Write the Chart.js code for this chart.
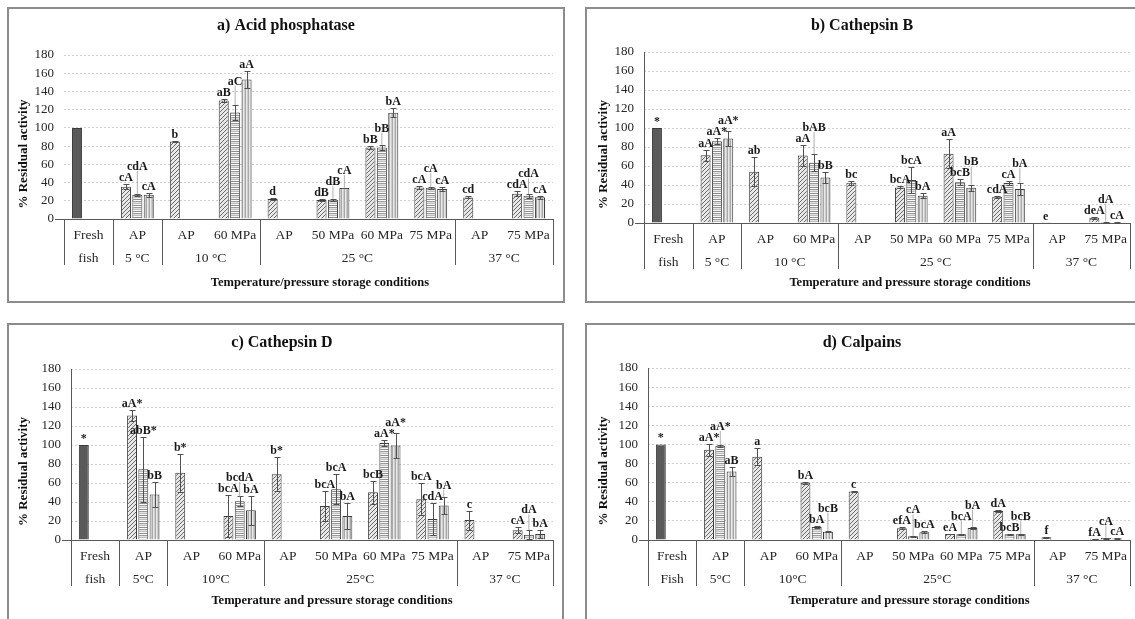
<!DOCTYPE html>
<html><head><meta charset="utf-8">
<script src="https://cdn.jsdelivr.net/npm/chart.js@4.4.0/dist/chart.umd.min.js"></script>
<style>
html,body{margin:0;padding:0;background:#fff;width:1135px;height:619px;overflow:hidden;position:relative;}
.box{position:absolute;border:2px solid #8c8c8c;box-sizing:border-box;}
canvas{position:absolute;}
</style></head><body>
<div class="box" style="left:7px;top:7px;width:558px;height:296px"></div>
<div class="box" style="left:585px;top:7px;width:560px;height:296px"></div>
<div class="box" style="left:7px;top:323px;width:557px;height:310px"></div>
<div class="box" style="left:585px;top:323px;width:560px;height:310px"></div>
<canvas id="ca"></canvas><canvas id="cb"></canvas><canvas id="cc"></canvas><canvas id="cd"></canvas>
<script>
// ---------- DATA ----------
const categories = ["Fresh","AP","AP","60 MPa","AP","50 MPa","60 MPa","75 MPa","AP","75 MPa"];
const groupSpans = [1,1,2,4,2];
const groupLabelsAB = ["fish","5 °C","10 °C","25 °C","37 °C"];
const groupLabelsC = ["fish","5°C","10°C","25°C","37 °C"];
const groupLabelsD = ["Fish","5°C","10°C","25°C","37 °C"];
const yMin = 0, yMax = 180, yStep = 20;

// a) Acid phosphatase
const acidS1 = [100, 35.5, 85, 130, 22, 20.8, 78.5, 34.7, 23.7, 27.7];
const acidS2 = [null, 26.6, null, 117, null, 21.2, 78.5, 34.3, null, 25.5];
const acidS3 = [null, 26.6, null, 153, null, 34, 116.5, 33, null, 24];
const acidE1 = [0, 3, 1, 2, 1, 1, 2, 1.5, 1, 2.5];
const acidE2 = [null, 1, null, 8, null, 1, 3, 1, null, 2];
const acidE3 = [null, 2, null, 9, null, 0.5, 5, 2, null, 1.5];
const acidL1 = ["", "cA", "b", "aB", "d", "dB", "bB", "cA", "cd", "cdA"];
const acidL2 = ["", "cdA", "", "aC", "", "dB", "bB", "cA", "", "cdA"];
const acidL3 = ["", "cA", "", "aA", "", "cA", "bA", "cA", "", "cA"];

// b) Cathepsin B
const catbS1 = [100, 71.2, 54, 71, 42.5, 37.5, 73, 27.7, 0.3, 5.6];
const catbS2 = [null, 86, null, 63.5, null, 45.3, 42.8, 42, null, 1];
const catbS3 = [null, 89, null, 48, null, 28.8, 37.2, 35.8, null, 0.5];
const catbE1 = [0, 6, 15, 11, 2, 1, 15, 1, 0, 1];
const catbE2 = [null, 3, null, 9, null, 14, 3, 2, null, 0.5];
const catbE3 = [null, 8, null, 5.5, null, 3, 3, 6, null, 0.3];
const catbL1 = ["*", "aA", "ab", "aA", "bc", "bcA", "aA", "cdA", "e", "deA"];
const catbL2 = ["", "aA*", "", "bAB", "", "bcA", "bcB", "cA", "", "dA"];
const catbL3 = ["", "aA*", "", "bB", "", "bA", "bB", "bA", "", "cA"];

// c) Cathepsin D
const catdS1 = [100, 131, 70.7, 25.3, 69.3, 35.9, 50.3, 42.9, 21, 10.2];
const catdS2 = [null, 74.5, null, 40.8, null, 53.4, 102, 22, null, 5.6];
const catdS3 = [null, 48, null, 31.3, null, 25.3, 99.5, 36.2, null, 6.3];
const catdE1 = [0, 6, 20, 22, 18, 16, 12, 17, 10, 3];
const catdE2 = [null, 34, null, 5, null, 16, 3, 17, null, 5];
const catdE3 = [null, 13, null, 15, null, 14, 13, 9, null, 4];
const catdL1 = ["*", "aA*", "b*", "bcA", "b*", "bcA", "bcB", "bcA", "c", "cA"];
const catdL2 = ["", "abB*", "", "bcdA", "", "bcA", "aA*", "cdA", "", "dA"];
const catdL3 = ["", "bB", "", "bA", "", "bA", "aA*", "bA", "", "bA"];

// d) Calpains
const calpS1 = [100, 94.4, 87, 59.8, 50.7, 12.2, 6.3, 30.4, 2.8, 1.2];
const calpS2 = [null, 98.6, null, 13.6, null, 3.8, 5.9, 5.9, null, 2];
const calpS3 = [null, 71.7, null, 8.7, null, 8, 12.6, 5.9, null, 1.5];
const calpE1 = [0, 6, 9, 1, 0.5, 1, 0.5, 1, 0.5, 0.3];
const calpE2 = [null, 1, null, 1.5, null, 0.5, 0.5, 0.5, null, 0.5];
const calpE3 = [null, 5, null, 0.5, null, 1, 1, 0.5, null, 0.3];
const calpL1 = ["*", "aA*", "a", "bA", "c", "efA", "eA", "dA", "f", "fA"];
const calpL2 = ["", "aA*", "", "bA", "", "cA", "bcA", "bcB", "", "cA"];
const calpL3 = ["", "aB", "", "bcB", "", "bcA", "bA", "bcB", "", "cA"];

// ---------- STYLE / LAYOUT ----------
const FONT = "'Liberation Serif','Times New Roman',serif";
const Y_AXIS_W = 50, X_AXIS_H = 30;

function makePattern(kind){
  const c=document.createElement('canvas'); const g=c.getContext('2d');
  if(kind==='diag'){
    c.width=4;c.height=4; g.fillStyle='#e8e8e8'; g.fillRect(0,0,4,4);
    g.strokeStyle='#6a6a6a'; g.lineWidth=1; g.beginPath();
    g.moveTo(0,4); g.lineTo(4,0); g.moveTo(-1,1); g.lineTo(1,-1); g.moveTo(3,5); g.lineTo(5,3); g.stroke();
  } else if(kind==='horiz'){
    c.width=4; c.height=6;
    ['#ffffff','#9a9a9a','#e2e2e2','#bdbdbd','#f6f6f6','#8e8e8e'].forEach((col,i)=>{g.fillStyle=col; g.fillRect(0,i,4,1);});
  } else {
    c.width=3; c.height=4;
    ['#a9a9a9','#e8e8e8','#cdcdcd'].forEach((col,i)=>{g.fillStyle=col; g.fillRect(i,0,1,4);});
  }
  return g.createPattern(c,'repeat');
}
const patDiag = makePattern('diag'), patHoriz = makePattern('horiz'), patVert = makePattern('vert');
const FRESH = '#5a5a5a';

const PANEL_CFG = {
  ca: {canvas:{l:8,t:8,w:555,h:293}, area:{l:64,t:55,r:553,b:219},
       title:["a) Acid phosphatase",286,26], xTitle:["Temperature/pressure storage conditions",320,283], yTitleX:24, yLine:false,
       groups:groupLabelsAB, series:[acidS1,acidS2,acidS3], errs:[acidE1,acidE2,acidE3], labels:[acidL1,acidL2,acidL3]},
  cb: {canvas:{l:586,t:8,w:549,h:293}, area:{l:644,t:52,r:1130,b:223},
       title:["b) Cathepsin B",862,26], xTitle:["Temperature and pressure storage conditions",910,283], yTitleX:604, yLine:true,
       groups:groupLabelsAB, series:[catbS1,catbS2,catbS3], errs:[catbE1,catbE2,catbE3], labels:[catbL1,catbL2,catbL3]},
  cc: {canvas:{l:8,t:324,w:554,h:295}, area:{l:71,t:369,r:553,b:540},
       title:["c) Cathepsin D",282,343], xTitle:["Temperature and pressure storage conditions",332,601], yTitleX:24, yLine:true,
       groups:groupLabelsC, series:[catdS1,catdS2,catdS3], errs:[catdE1,catdE2,catdE3], labels:[catdL1,catdL2,catdL3]},
  cd: {canvas:{l:586,t:324,w:549,h:295}, area:{l:648,t:368,r:1130,b:540},
       title:["d) Calpains",862,343], xTitle:["Temperature and pressure storage conditions",909,601], yTitleX:604, yLine:true,
       groups:groupLabelsD, series:[calpS1,calpS2,calpS3], errs:[calpE1,calpE2,calpE3], labels:[calpL1,calpL2,calpL3]}
};

const decor = {
  id:'decor',
  afterDatasetsDraw(chart){
    const P = PANEL_CFG[chart.canvas.id]; if(!P) return;
    const ctx=chart.ctx, y=chart.scales.y;
    ctx.save();
    for(let d=0; d<3; d++){
      const meta=chart.getDatasetMeta(d);
      meta.data.forEach((el,i)=>{
        const v=P.series[d][i], e=P.errs[d][i];
        if(v==null||!e) return;
        const yt=Math.round(y.getPixelForValue(v+e))+0.5, yb=Math.round(y.getPixelForValue(Math.max(0,v-e)))+0.5;
        const x=Math.round(el.x)+0.5;
        ctx.strokeStyle='#505050'; ctx.lineWidth=1; ctx.beginPath();
        ctx.moveTo(x,yt); ctx.lineTo(x,yb);
        ctx.moveTo(x-3,yt); ctx.lineTo(x+3,yt);
        ctx.moveTo(x-3,yb); ctx.lineTo(x+3,yb);
        ctx.stroke();
      });
    }
    ctx.font = "bold 12px "+FONT; ctx.textAlign='center'; ctx.textBaseline='alphabetic'; ctx.fillStyle='#1a1a1a';
    const n = categories.length;
    for(let i=0;i<n;i++){
      const placed=[];
      for(let d=0; d<3; d++){
        const v=P.series[d][i]; const txt=P.labels[d][i];
        if(v==null||!txt) continue;
        const el=chart.getDatasetMeta(d).data[i];
        const e=P.errs[d][i]||0;
        const topPx=y.getPixelForValue(v+e);
        const natural=topPx-3;
        const w=ctx.measureText(txt).width, h=10;
        const x0=el.x-w/2, x1=el.x+w/2;
        let yb=natural, moved=true;
        while(moved){
          moved=false;
          for(const p of placed){
            if(x0 < p.x1-2 && x1 > p.x0+2 && yb > p.yt && yb-h < p.yb){ yb=p.yt-1; moved=true; }
          }
        }
        if(natural-yb>4){
          ctx.save(); ctx.strokeStyle='#9a9a9a'; ctx.lineWidth=0.8; ctx.beginPath();
          ctx.moveTo(el.x,topPx); ctx.lineTo(el.x,yb+1); ctx.stroke(); ctx.restore();
        }
        ctx.fillText(txt, el.x, yb);
        placed.push({x0,x1,yb,yt:yb-h});
      }
    }
    ctx.restore();
  },
  afterDraw(chart){
    const P = PANEL_CFG[chart.canvas.id]; if(!P) return;
    const ctx=chart.ctx, x=chart.scales.x, y=chart.scales.y, A=chart.chartArea;
    const ox=P.canvas.l, oy=P.canvas.t;
    ctx.save();
    ctx.strokeStyle='#595959'; ctx.lineWidth=1;
    const y0=Math.round(y.getPixelForValue(0))+0.5;
    ctx.beginPath(); ctx.moveTo(A.left-9,y0); ctx.lineTo(A.left,y0); ctx.stroke();
    if(P.yLine){
      const xl=Math.round(A.left)+0.5;
      ctx.beginPath(); ctx.moveTo(xl,A.top); ctx.lineTo(xl,A.bottom); ctx.stroke();
    }
    const catW=x.getPixelForValue(1)-x.getPixelForValue(0);
    const bound=i=>x.getPixelForValue(i)-catW/2;
    let idx=0;
    const cuts=[0];
    groupSpans.forEach(s=>{idx+=s; cuts.push(idx);});
    ctx.beginPath();
    cuts.forEach(c=>{const bx=Math.round(bound(c))+0.5; ctx.moveTo(bx,A.bottom); ctx.lineTo(bx,A.bottom+46);});
    ctx.stroke();
    ctx.fillStyle='#262626'; ctx.font="13.5px "+FONT; ctx.textAlign='center'; ctx.textBaseline='middle';
    for(let g=0; g<groupSpans.length; g++){
      const cx=(bound(cuts[g])+bound(cuts[g+1]))/2;
      ctx.fillText(P.groups[g], cx, A.bottom+39);
    }
    ctx.fillStyle='#111';
    ctx.font="bold 16px "+FONT;
    ctx.fillText(P.title[0], P.title[1]-ox, P.title[2]-oy);
    ctx.font="bold 12.5px "+FONT;
    ctx.fillText(P.xTitle[0], P.xTitle[1]-ox, P.xTitle[2]-oy);
    ctx.font="bold 13px "+FONT;
    ctx.translate(P.yTitleX-ox, (A.top+A.bottom)/2+17);
    ctx.rotate(-Math.PI/2);
    ctx.fillText("% Residual activity",0,0);
    ctx.restore();
  }
};

function build(id){
  const P=PANEL_CFG[id];
  const cv=document.getElementById(id);
  cv.width=P.canvas.w; cv.height=P.canvas.h;
  cv.style.left=P.canvas.l+'px'; cv.style.top=P.canvas.t+'px';
  cv.style.width=P.canvas.w+'px'; cv.style.height=P.canvas.h+'px';
  const pad={
    left:P.area.l-P.canvas.l-Y_AXIS_W,
    top:P.area.t-P.canvas.t,
    right:P.canvas.l+P.canvas.w-P.area.r,
    bottom:P.canvas.t+P.canvas.h-P.area.b-X_AXIS_H
  };
  const [s1,s2,s3]=P.series;
  new Chart(cv,{
    type:'bar',
    data:{labels:categories, datasets:[
      {data:s1, backgroundColor:s1.map((v,i)=>i===0?FRESH:patDiag), borderColor:'#3c3c3c', borderWidth:1},
      {data:s2, backgroundColor:patHoriz, borderColor:'#3c3c3c', borderWidth:1},
      {data:s3, backgroundColor:patVert, borderColor:'#3c3c3c', borderWidth:1}
    ]},
    options:{
      responsive:false, animation:false, devicePixelRatio:1,
      layout:{padding:pad},
      plugins:{legend:{display:false}, tooltip:{enabled:false}, title:{display:false}},
      datasets:{bar:{categoryPercentage:0.7, barPercentage:0.88}},
      scales:{
        x:{type:'category', offset:true,
           grid:{display:false, drawTicks:false},
           border:{display:true, color:'#595959', width:1},
           ticks:{font:{family:FONT,size:13.5}, color:'#262626', padding:8, maxRotation:0, minRotation:0, autoSkip:false},
           afterFit(s){s.height=X_AXIS_H; s.paddingLeft=0; s.paddingRight=0;}},
        y:{min:yMin, max:yMax,
           ticks:{stepSize:yStep, autoSkip:false, font:{family:FONT,size:13}, color:'#262626', padding:10},
           grid:{color:'#cfcfcf', drawTicks:false, lineWidth:1},
           border:{display:false, dash:[2,2]},
           afterFit(s){s.width=Y_AXIS_W; s.paddingTop=0; s.paddingBottom=0;}}
      }
    },
    plugins:[decor]
  });
}
['ca','cb','cc','cd'].forEach(build);
</script>
</body></html>
